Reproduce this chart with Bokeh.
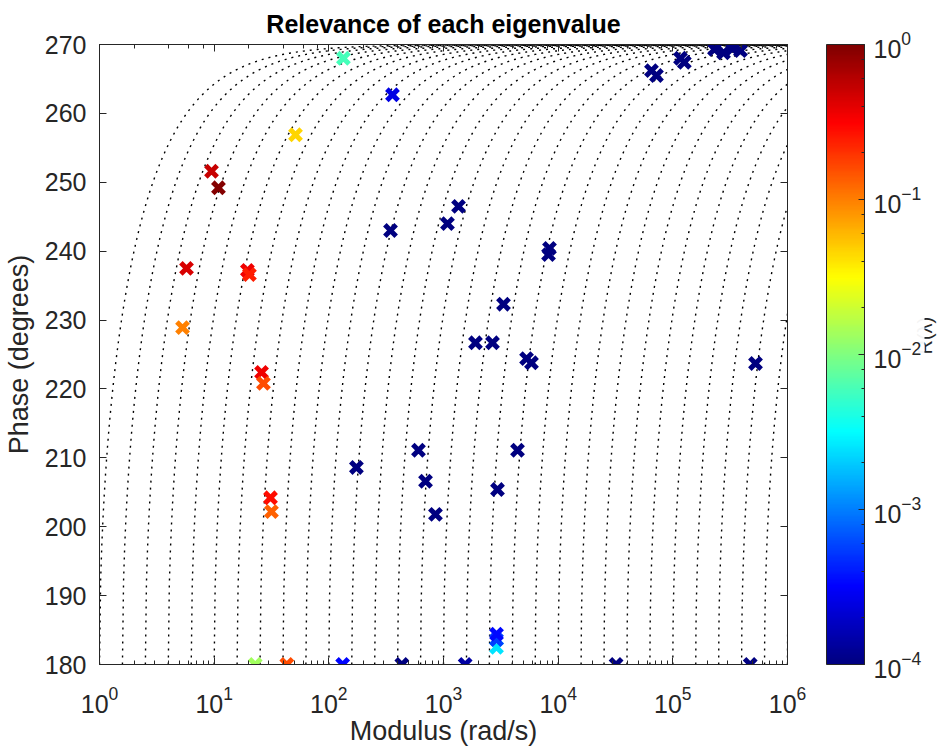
import numpy as np
from math import pi
from bokeh.plotting import figure
from bokeh.models import (ColumnDataSource, LogColorMapper, ColorBar, LogTicker,
                          LogAxis, LinearAxis, SingleIntervalTicker, FixedTicker,
                          CustomJSTickFormatter)
from bokeh.embed import file_html
from bokeh.resources import INLINE

# ---------------- data ----------------
modulus = [134, 359, 51.2, 9.48, 10.9, 5.74, 19.5, 20.3, 5.3, 25.9, 26.9, 31.0, 31.6,
           345, 1352, 1083, 8400, 8240, 3337, 65100, 72000, 116600, 126000,
           230700, 276700, 331000, 389000, 1900, 2675, 5300, 5850, 526000,
           4420, 2957, 851, 605, 697, 174,
           22.8, 43.0, 132, 433, 1545, 2900, 2900, 2900, 32000, 473000]
phase = [268.0, 262.7, 256.9, 251.6, 249.2, 237.5, 237.2, 236.6, 228.9, 222.4, 220.8, 204.2, 202.2,
         243.0, 246.5, 244.0, 240.4, 239.5, 232.3, 266.2, 265.5, 268.0, 267.4,
         269.3, 268.8, 269.4, 269.1, 226.7, 226.7, 224.4, 223.8, 223.7,
         211.1, 205.4, 201.8, 211.1, 206.6, 208.6,
         180.0, 180.0, 180.0, 180.0, 180.0, 182.5, 183.6, 184.4, 180.0, 180.0]
relevance = [6e-3, 2.5e-4, 0.046, 0.52, 0.95, 0.44, 0.36, 0.24, 0.10, 0.36, 0.155, 0.28, 0.13,
             1e-4, 1e-4, 1e-4, 1e-4, 1e-4, 1e-4, 1e-4, 1e-4, 1e-4, 1e-4,
             1e-4, 1e-4, 1e-4, 1e-4, 1e-4, 1e-4, 1e-4, 1e-4, 1e-4,
             1e-4, 1e-4, 1e-4, 1e-4, 1e-4, 1e-4,
             0.0138, 0.158, 3.3e-4, 1e-4, 1.4e-4, 2.5e-3, 5.5e-4, 3.5e-4, 1e-4, 1e-4]

# real-part magnitudes of the guide curves (constant real part)
guide_sigma = [10 ** (0.2 * k) for k in range(0, 31)]

x_range_lim = (1, 1e6)
y_range_lim = (180, 270)

# ---------------- jet colormap ----------------
def jet(f):
    r = min(max(1.5 - abs(4 * f - 3), 0), 1)
    g = min(max(1.5 - abs(4 * f - 2), 0), 1)
    b = min(max(1.5 - abs(4 * f - 1), 0), 1)
    return "#%02x%02x%02x" % (int(round(r * 255)), int(round(g * 255)), int(round(b * 255)))

palette = [jet(i / 255) for i in range(256)]
mapper = LogColorMapper(palette=palette, low=1e-4, high=1)

FONT = "Liberation Sans"
TXT = "#262626"

p = figure(x_axis_type="log", x_range=x_range_lim, y_range=y_range_lim,
           frame_width=688, frame_height=620,
           min_border_left=96, min_border_top=44, min_border_bottom=84, min_border_right=157,
           output_backend="svg", toolbar_location=None,
           title="Relevance of each eigenvalue")
p.title.align = "center"
p.title.text_font = FONT
p.title.text_font_size = "25px"
p.title.text_font_style = "bold"
p.title.text_color = "#000000"
p.title.standoff = 14

p.xgrid.visible = False
p.ygrid.visible = False
p.outline_line_color = TXT
p.background_fill_color = "white"
p.border_fill_color = "white"

# guide curves
for s in guide_sigma:
    r = np.logspace(np.log10(s), 6.05, 600)
    th = 180 + np.degrees(np.arccos(np.clip(s / r, -1, 1)))
    p.line(r, th, line_color="black", line_width=1.4, line_dash="2 5")

src = ColumnDataSource(dict(x=modulus, y=phase, c=relevance))
p.scatter("x", "y", source=src, marker="x", size=16, line_width=5,
          line_color={"field": "c", "transform": mapper})

blank = CustomJSTickFormatter(code="return ''")

# axes styling
def style_axis(ax, labels=True):
    ax.axis_line_color = TXT
    ax.major_tick_line_color = TXT
    ax.minor_tick_line_color = TXT
    ax.major_tick_in = 7
    ax.major_tick_out = 0
    ax.minor_tick_in = 4
    ax.minor_tick_out = 0
    ax.major_label_text_font = FONT
    ax.major_label_text_color = TXT
    ax.major_label_text_font_size = "25px"
    ax.axis_label_text_font = FONT
    ax.axis_label_text_color = TXT
    ax.axis_label_text_font_size = "27px"
    ax.axis_label_text_font_style = "normal"
    if not labels:
        ax.formatter = blank
        ax.major_label_standoff = 0

p.xaxis.axis_label = "Modulus (rad/s)"
p.yaxis.axis_label = "Phase (degrees)"
p.yaxis.ticker = SingleIntervalTicker(interval=10, num_minor_ticks=0)
style_axis(p.xaxis[0])
style_axis(p.yaxis[0])
p.xaxis.major_label_standoff = 21
p.yaxis.major_label_standoff = 13
p.xaxis.axis_label_standoff = 0
p.yaxis.axis_label_standoff = 8

top_ax = LogAxis()
style_axis(top_ax, labels=False)
p.add_layout(top_ax, "above")
right_ax = LinearAxis(ticker=SingleIntervalTicker(interval=10, num_minor_ticks=0))
style_axis(right_ax, labels=False)
p.add_layout(right_ax, "right")

cb = ColorBar(color_mapper=mapper, ticker=LogTicker(), width=38, height=620,
              location=(39, 0), padding=0, margin=0,
              bar_line_color=TXT, major_tick_line_color=TXT, minor_tick_line_color=TXT,
              major_tick_in=6, major_tick_out=0, minor_tick_in=3, minor_tick_out=0,
              major_label_text_font=FONT, major_label_text_font_size="25px",
              major_label_text_color=TXT, label_standoff=9)
p.add_layout(cb, "right")

# colour-bar label, carried by an otherwise invisible axis right of the colour bar
lab_ax = LinearAxis(ticker=FixedTicker(ticks=[]), formatter=blank,
                    axis_line_color=None, major_tick_line_color=None,
                    minor_tick_line_color=None, major_label_standoff=0,
                    axis_label="R(λ)", axis_label_standoff=0,
                    axis_label_text_font=FONT, axis_label_text_font_size="20px",
                    axis_label_text_color=TXT, axis_label_text_font_style="normal")
if "axis_label_orientation" in LinearAxis.properties():
    lab_ax.axis_label_orientation = pi / 2
p.add_layout(lab_ax, "right")

open("out.html", "w").write(file_html(p, INLINE))
